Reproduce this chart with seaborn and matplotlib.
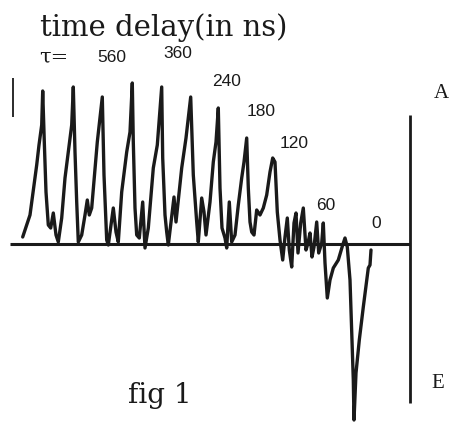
import matplotlib
matplotlib.use("Agg")
import matplotlib.pyplot as plt
import seaborn as sns
import pandas as pd

# trace: horizontal position and deflection from the baseline
x_pos = [22.7, 30, 36.7, 39, 41.7, 42.7, 44.3, 46, 48.3, 50.7, 53.3, 56, 58.3,
         61.7, 65, 68.3, 71.7, 73.3, 75, 76.7, 77.7, 78.3, 81.7, 85, 87.3, 89.3, 91.7,
         97.3, 102.3, 104, 106.7, 108.3, 113.3, 116, 118.3, 121.7, 126.7, 130, 132.3,
         133.3, 135, 136.7, 139.3, 142.7, 145, 148.3, 153.3, 157.3, 161.7, 162.7, 165,
         166.7, 168.3, 174, 176, 181.7, 186, 190.7, 193.3, 196.7, 198.3, 201.7, 204,
         206, 210, 213.3, 216, 218.3, 220, 222, 225, 226.7, 229.3, 231.7, 235, 238.3,
         241.7, 244, 246.7, 248.3, 250, 251.7, 254, 256.7, 260, 263.3, 266.7, 270,
         272.7, 275, 277.3, 280, 282.7, 285, 287.3, 289.3, 291.7, 294, 296, 298, 300.7,
         303.3, 306, 308, 310, 312, 314, 316.7, 318.7, 321.7, 323.3, 325, 327.3, 330,
         333.3, 338.3, 342.7, 345, 347.3, 350, 351.7, 353.3, 354, 356, 359.3, 363.3,
         368.3, 370, 371]
amp = [7, 29, 79, 99, 119, 153, 102, 52, 19, 16, 31, 9, 2,
       26, 66, 92, 119, 157, 92, 42, 16, 2, 9, 29, 44, 29, 36,
       102, 147, 69, 4, -1, 36, 12, 2, 52, 92, 112, 161,
       102, 36, 9, 6, 42, -4, 16, 76, 99, 157, 86, 29,
       12, -1, 47, 22, 76, 106, 147, 69, 22, 2, 46, 32,
       9, 42, 82, 102, 136, 56, 16, 6, -4, 42, 2, 9, 39,
       66, 82, 106, 56, 22, 12, 9, 34, 29, 36, 49, 72,
       86, 82, 32, 4, -16, 7, 26, -6, -23, 21, 31, -9, 21,
       36, -6, 1, 11, -13, -3, 22, -9, 1, 21, -19, -54, -36,
       -24, -16, -1, 6, -3, -36, -86, -136, -176, -129, -96, -63,
       -24, -21, -6]

tau_labels = ["560", "360", "240", "180", "120", "60", "0"]
tau_x = [112, 178, 227, 261, 294, 326, 376]
tau_y = [187, 190, 162, 132, 100, 38, 20]

df = pd.DataFrame({"x": x_pos, "amp": amp})

sns.set_style("white")
fig = plt.figure(figsize=(4.54, 4.22), dpi=100)
ax = fig.add_axes([0, 0, 1, 1])
ax.set_xlim(0, 454)
ax.set_ylim(-178, 244)
ax.axis("off")

ink = "#1a1a1a"
sns.lineplot(data=df, x="x", y="amp", sort=False, estimator=None, ax=ax,
             color=ink, lw=2.4)

# baseline and right-hand vertical axis
ax.plot([10, 410], [0, 0], color=ink, lw=2.2, solid_capstyle="butt")
ax.plot([410, 410], [129, -159], color=ink, lw=2.0, solid_capstyle="butt")
ax.plot([13, 13], [166, 127], color=ink, lw=1.3, solid_capstyle="butt")

serif = ["DejaVu Serif"]
ax.text(40, 208, "time delay(in ns)", fontsize=21, family=serif, color=ink,
        ha="left", va="baseline")
ax.text(39, 187, "τ=", fontsize=15, family=serif, color=ink,
        ha="left", va="center")
for lab, tx, ty in zip(tau_labels, tau_x, tau_y):
    ax.text(tx, ty, lab, fontsize=12.5, family=["Liberation Sans", "DejaVu Sans"],
            color=ink, ha="center", va="center")

ax.text(441, 150, "A", fontsize=15, family=["Liberation Serif"],
        color=ink, ha="center", va="center")
ax.text(438, -139, "E", fontsize=15, family=["Liberation Serif"],
        color=ink, ha="center", va="center")
ax.text(160, -159, "fig 1", fontsize=20, family=serif, color=ink,
        ha="center", va="baseline")

fig.savefig("out.png", dpi=100)
